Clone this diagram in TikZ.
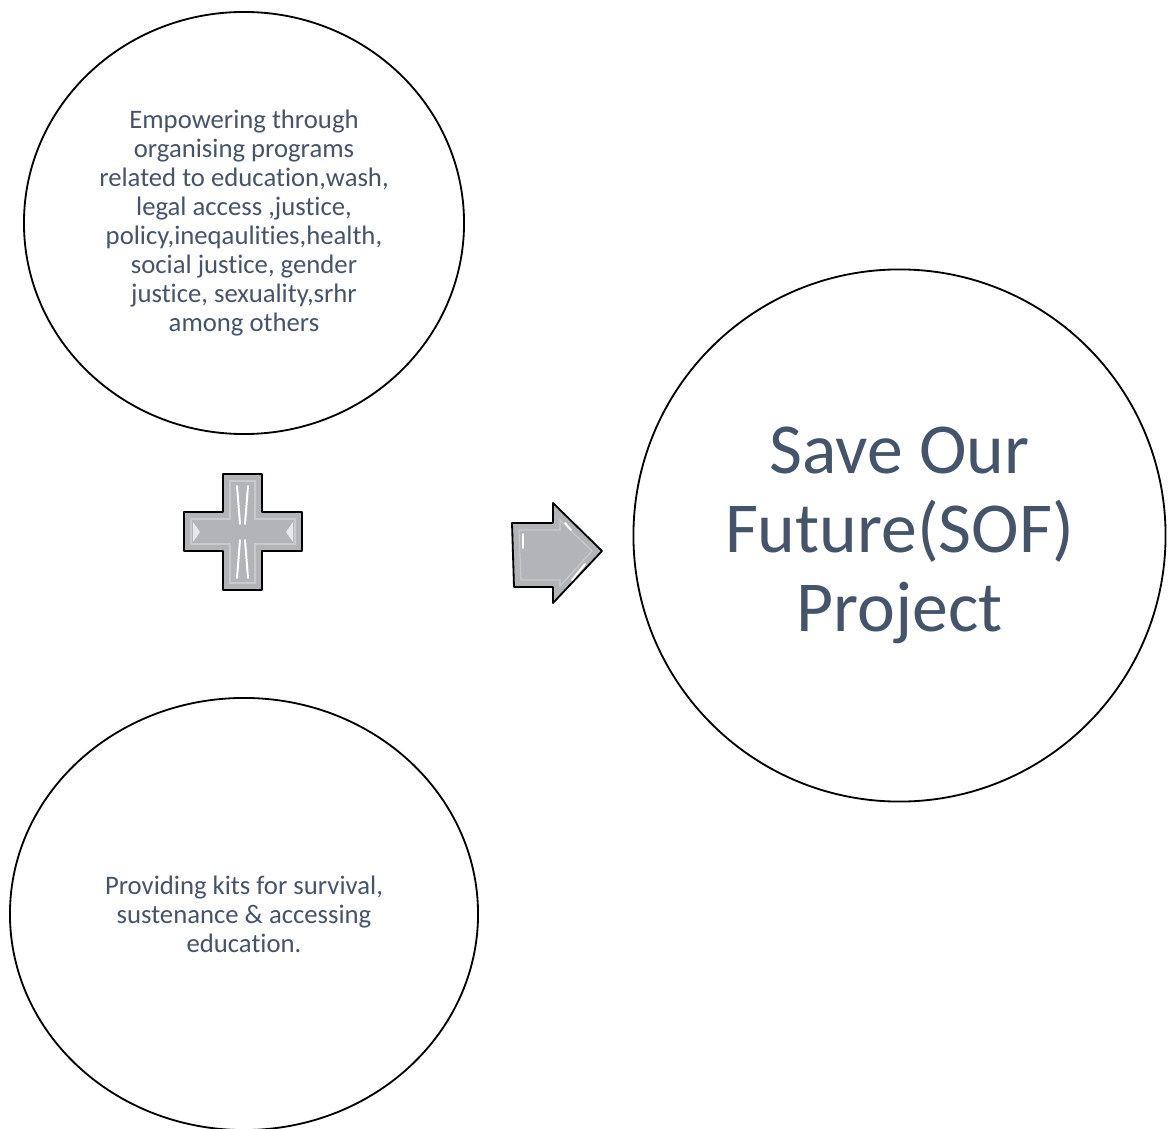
\documentclass[tikz,border=0pt]{standalone}
\usepackage{fontspec}
\setmainfont[Ligatures=NoCommon]{Carlito}
\usepackage{tikz}
\usetikzlibrary{shapes.geometric,positioning}
\definecolor{slateText}{HTML}{44546A}
\definecolor{bevelGray}{RGB}{178,180,184}
\definecolor{bevelLight}{RGB}{200,202,206}

\begin{document}
\begin{tikzpicture}[
            x=0.025cm, y=-0.025cm,
            bubble/.style={ellipse, draw, line width=1.3pt, inner sep=0pt, align=center, text=slateText, font=\fontsize{19}{20.6}\selectfont},
            bevel/.style={fill=bevelGray, draw=black, line width=1.3pt, line join=round},
            facet/.style={draw=bevelLight, line width=0.8pt},
            shine/.style={draw=white, line width=1.4pt, line cap=round}
        ]
            \useasboundingbox (0,0) rectangle (1171,1129);

            \node[bubble, minimum width=11cm, minimum height=10.55cm] (programs) at (244,223)
                {Empowering through\\organising programs\\related to education,wash,\\legal access ,justice,\\policy,ineqaulities,health,\\social justice, gender\\justice, sexuality,srhr\\among others};
            \node[bubble, minimum width=11.7cm, minimum height=10.8cm] (kits) at (244,914)
                {Providing kits for survival,\\sustenance \& accessing\\education.};
            \node[bubble, minimum width=13.3cm, minimum height=13.3cm, font=\fontsize{51}{56}\selectfont] (sof) at (899.5,535.5)
                {Save Our\\Future(SOF)\\Project};

            % plus sign
            \draw[bevel] (223,474) -- (262,474) -- (262,512) -- (302,512) -- (302,551) -- (262,551)
                -- (262,590) -- (223,590) -- (223,551) -- (184,551) -- (184,512) -- (223,512) -- cycle;
            \draw[facet] (230,481) -- (255,481) -- (255,519) -- (295,519) -- (295,544) -- (255,544)
                -- (255,583) -- (230,583) -- (230,544) -- (191,544) -- (191,519) -- (230,519) -- cycle;
            \draw[shine] (237,486) -- (240,524) (248,486) -- (245,524);
            \draw[shine] (237,578) -- (240,540) (248,578) -- (245,540);
            \fill[white!70!bevelGray] (193,522) -- (200,532) -- (193,542) -- cycle;
            \fill[white!70!bevelGray] (293,522) -- (286,532) -- (293,542) -- cycle;

            % arrow
            \draw[bevel] (512,523) -- (553,523) -- (553,503) -- (602,551) -- (553,603) -- (553,587)
                -- (514,587) -- cycle;
            \draw[facet] (519,530) -- (560,530) -- (560,520) -- (592,551) -- (560,586) -- (560,580)
                -- (521,580) -- cycle;
            \draw[shine] (523,534) -- (523,548);
            \draw[shine] (565,523) -- (571,530);
            \draw[shine] (572,580) -- (585,564);
        \end{tikzpicture}
\end{document}
